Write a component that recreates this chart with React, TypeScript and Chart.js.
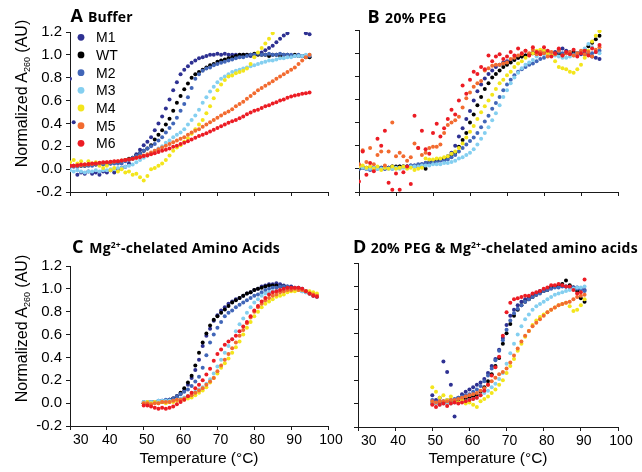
import React, { useEffect, useRef } from 'react';
import { Chart, registerables } from 'chart.js';

Chart.register(...registerables);

// ---------------- DATA ----------------
const SERIES = ['M1', 'WT', 'M2', 'M3', 'M4', 'M5', 'M6'];
const COLORS = ['#2e3192', '#000000', '#4166b8', '#84cff0', '#f3e51c', '#f26b30', '#ec1c24'];

const X_TICKS = [30, 40, 50, 60, 70, 80, 90, 100];
const Y_TICKS = [-0.2, 0.0, 0.2, 0.4, 0.6, 0.8, 1.0, 1.2];

const TEMP_AB = [30,31,32,33,34,35,36,37,38,39,40,41,42,43,44,45,46,47,48,49,50,51,52,53,54,55,56,57,58,59,60,61,62,63,64,65,66,67,68,69,70,71,72,73,74,75,76,77,78,79,80,81,82,83,84,85,86,87,88,89,90,91,92,93,94,95];
const TEMP_C = [50,51,52,53,54,55,56,57,58,59,60,61,62,63,64,65,66,67,68,69,70,71,72,73,74,75,76,77,78,79,80,81,82,83,84,85,86,87,88,89,90,91,92,93,94,95,96,97];
const TEMP_D = [50,51,52,53,54,55,56,57,58,59,60,61,62,63,64,65,66,67,68,69,70,71,72,73,74,75,76,77,78,79,80,81,82,83,84,85,86,87,88,89,90,91];

// Panel A: Buffer
const A_M1 = [0.79,0.41,-0.05,-0.03,-0.04,-0.02,-0.04,-0.03,-0.05,-0.02,-0.03,-0.01,-0.03,0.00,0.01,0.02,0.05,0.09,0.13,0.17,0.21,0.24,0.28,0.34,0.40,0.46,0.53,0.61,0.69,0.76,0.83,0.87,0.90,0.93,0.95,0.97,0.98,0.99,1.00,1.00,1.01,1.00,1.01,1.00,1.00,1.00,0.99,1.00,1.00,0.99,1.00,1.01,1.02,1.04,1.06,1.08,1.11,1.14,1.17,1.19,null,null,null,null,1.19,1.18];
const A_WT = [0.03,0.03,0.03,0.03,0.03,0.04,0.04,0.04,0.04,0.05,0.05,0.05,0.06,0.06,0.07,0.08,0.09,0.10,0.12,0.14,0.16,0.18,0.21,0.26,0.30,0.34,0.39,0.44,0.51,0.58,0.64,0.70,0.75,0.80,0.83,0.85,0.87,0.89,0.91,0.92,0.94,0.95,0.96,0.97,0.98,0.99,1.00,1.00,1.00,1.00,1.01,1.00,1.00,1.00,0.99,1.00,1.00,0.99,1.00,1.00,0.99,1.00,0.99,0.99,0.98,0.98];
const A_M2 = [0.02,0.02,0.02,0.03,0.03,0.03,0.03,0.04,0.04,0.04,0.04,0.05,0.05,0.05,0.05,0.07,0.08,0.10,0.12,0.14,0.16,0.18,0.20,0.22,0.25,0.28,0.32,0.36,0.40,0.45,0.51,0.57,0.63,0.71,0.79,0.83,0.86,0.88,0.89,0.91,0.92,0.93,0.94,0.95,0.96,0.97,0.98,0.98,0.99,1.00,1.00,1.01,1.00,1.00,1.01,1.00,1.00,1.01,1.00,1.00,1.00,0.99,1.00,0.99,0.99,0.99];
const A_M3 = [-0.01,-0.02,-0.01,-0.02,-0.03,-0.02,-0.02,-0.01,-0.02,-0.01,-0.01,0.00,0.00,0.01,0.01,0.02,0.03,0.04,0.06,0.08,0.10,0.12,0.14,0.16,0.18,0.20,0.23,0.25,0.28,0.30,0.32,0.35,0.39,0.43,0.47,0.52,0.58,0.63,0.68,0.72,0.76,0.79,0.81,0.83,0.85,0.86,0.87,0.88,0.89,0.90,0.91,0.92,0.93,0.94,0.95,0.95,0.96,0.97,0.97,0.98,0.98,0.99,0.99,0.99,1.00,1.00];
const A_M4 = [0.06,0.08,0.05,0.07,0.04,0.07,0.05,0.06,0.03,0.01,0.03,-0.01,0.01,-0.02,0.00,-0.03,-0.02,-0.05,-0.04,-0.07,-0.10,-0.06,0.00,0.01,0.03,0.05,0.08,0.12,0.16,0.19,0.21,0.24,0.27,0.31,0.35,0.39,0.43,0.49,0.55,0.62,0.69,0.74,0.78,0.81,0.82,0.84,0.85,0.86,0.88,0.92,0.98,1.02,1.06,1.10,1.14,1.19,null,null,null,null,null,null,null,null,null,null];
const A_M5 = [0.03,0.03,0.03,0.035,0.04,0.04,0.045,0.05,0.05,0.055,0.06,0.06,0.065,0.07,0.075,0.08,0.085,0.09,0.10,0.11,0.12,0.13,0.145,0.16,0.175,0.19,0.205,0.22,0.235,0.25,0.265,0.28,0.30,0.32,0.335,0.35,0.37,0.39,0.41,0.43,0.45,0.47,0.49,0.505,0.525,0.55,0.57,0.59,0.615,0.64,0.665,0.69,0.71,0.73,0.75,0.77,0.79,0.81,0.83,0.85,0.87,0.89,0.92,0.95,0.98,1.00];
const A_M6 = [0.03,0.03,0.035,0.04,0.04,0.045,0.05,0.05,0.055,0.06,0.06,0.065,0.07,0.07,0.075,0.08,0.085,0.09,0.10,0.105,0.115,0.12,0.13,0.14,0.15,0.16,0.17,0.18,0.195,0.205,0.22,0.23,0.245,0.26,0.275,0.29,0.30,0.315,0.33,0.345,0.36,0.375,0.39,0.405,0.42,0.43,0.445,0.46,0.48,0.495,0.51,0.52,0.535,0.55,0.56,0.575,0.585,0.60,0.61,0.625,0.635,0.645,0.65,0.66,0.665,0.67];

// Panel B: 20% PEG
const B_M1 = [0.00,0.01,0.00,0.01,0.00,0.01,0.01,0.00,0.01,0.02,0.01,0.02,0.02,0.02,0.03,0.03,0.03,0.04,0.05,0.06,0.06,0.07,0.08,0.09,0.11,0.14,0.20,0.28,0.35,0.43,0.50,0.59,0.67,0.73,0.78,0.82,0.85,0.88,0.90,0.92,0.93,0.94,0.95,0.96,0.97,0.98,0.99,1.00,1.01,1.00,1.02,1.01,1.00,1.01,1.03,1.04,1.02,1.00,0.99,1.00,0.99,1.00,0.99,0.97,0.96,0.95];
const B_WT = [0.01,0.01,0.01,0.01,0.01,0.01,0.01,0.01,0.01,0.02,0.02,0.02,0.02,0.02,0.02,0.02,0.02,0.02,0.00,0.05,0.06,0.07,0.08,0.09,0.10,0.12,0.14,0.19,0.25,0.31,0.40,0.47,0.55,0.62,0.69,0.74,0.79,0.82,0.85,0.88,0.90,0.92,0.94,0.96,0.97,0.98,0.99,1.00,1.00,1.01,1.00,1.00,0.99,1.00,1.00,0.99,1.00,1.00,1.01,1.00,1.01,1.03,1.06,1.09,1.12,1.15];
const B_M2 = [0.00,0.01,0.00,-0.01,0.00,0.00,0.01,0.00,0.01,0.00,0.01,0.01,0.02,0.02,0.03,0.03,0.04,0.04,0.05,0.05,0.06,0.06,0.07,0.07,0.08,0.10,0.12,0.15,0.18,0.21,0.24,0.27,0.31,0.36,0.41,0.46,0.52,0.57,0.62,0.68,0.73,0.77,0.81,0.84,0.86,0.88,0.90,0.91,0.93,0.95,0.96,0.98,0.99,1.00,1.01,1.00,1.00,1.01,0.99,1.00,1.00,0.99,1.00,1.00,1.01,1.02];
const B_M3 = [0.02,0.01,0.00,0.00,0.01,0.00,0.00,0.01,0.00,0.00,0.01,0.00,0.01,0.01,0.02,0.02,0.02,0.03,0.03,0.03,0.04,0.04,0.04,0.05,0.05,0.06,0.07,0.09,0.10,0.12,0.14,0.17,0.21,0.26,0.31,0.36,0.42,0.48,0.55,0.62,0.68,0.74,0.79,0.83,0.87,0.90,0.92,0.94,0.97,0.99,0.99,0.99,0.99,0.98,0.97,0.96,0.96,0.97,0.98,1.00,1.01,1.04,1.08,1.05,1.02,1.00];
const B_M4 = [0.02,0.03,0.01,0.02,0.00,0.02,-0.01,0.01,0.00,0.02,0.00,0.01,0.02,0.00,0.01,-0.01,0.00,0.01,0.09,0.08,0.08,0.09,0.09,0.10,0.11,0.13,0.15,0.18,0.22,0.27,0.32,0.37,0.43,0.49,0.54,0.59,0.64,0.69,0.74,0.77,0.81,0.84,0.88,0.91,0.93,0.96,0.98,1.00,1.02,1.03,1.02,1.00,0.98,0.93,0.88,0.87,0.86,0.84,0.83,0.86,0.90,0.96,1.02,1.10,1.15,1.19];
const B_M5 = [0.04,0.16,0.06,0.18,0.04,0.12,0.15,0.03,0.15,0.40,0.11,0.14,0.11,0.07,0.10,0.22,0.18,0.12,0.14,0.18,0.19,0.19,0.21,0.31,0.38,0.40,0.42,0.45,0.53,0.61,0.66,0.71,0.74,0.76,0.85,0.87,0.89,0.90,0.90,0.91,0.92,0.95,0.96,0.98,0.99,1.02,1.00,1.03,0.99,1.01,1.00,0.97,1.01,0.99,1.02,0.98,1.00,1.01,0.98,1.00,1.02,0.99,1.01,0.97,1.03,1.05];
const B_M6 = [-0.11,0.15,-0.05,0.05,-0.02,0.26,0.20,0.33,-0.12,-0.18,-0.04,-0.18,-0.03,0.02,-0.13,0.46,0.18,0.33,0.17,0.13,0.31,0.39,0.28,0.35,0.43,0.51,0.47,0.59,0.72,0.65,0.77,0.84,0.82,0.88,0.86,0.98,0.93,0.97,0.99,0.95,0.97,1.01,0.98,1.04,1.00,1.02,0.98,1.05,1.01,0.99,1.05,1.02,0.97,1.00,1.04,0.98,1.01,0.99,1.03,0.97,1.00,1.02,0.98,1.04,1.01,1.07];

// Panel C: Mg2+-chelated amino acids
const C_M1 = [0.00,0.00,0.01,0.01,0.01,0.02,0.02,0.03,0.04,0.06,0.08,0.11,0.16,0.22,0.29,0.38,0.50,0.59,0.65,0.72,0.77,0.81,0.84,0.87,0.89,0.91,0.92,0.94,0.96,0.97,0.99,1.00,1.02,1.03,1.04,1.04,1.05,1.04,1.03,1.02,1.02,1.01,1.01,1.00,0.98,0.96,0.94,0.93];
const C_WT = [0.00,0.00,0.00,0.01,0.01,0.01,0.02,0.03,0.04,0.06,0.09,0.13,0.18,0.24,0.33,0.44,0.53,0.61,0.68,0.73,0.76,0.79,0.82,0.85,0.88,0.90,0.92,0.94,0.96,0.97,0.99,1.00,1.01,1.02,1.03,1.03,1.03,1.02,1.02,1.01,1.01,1.00,1.00,0.99,0.98,0.96,0.95,0.94];
const C_M2 = [0.01,0.01,0.01,0.01,0.02,0.02,0.03,0.03,0.04,0.06,0.08,0.10,0.12,0.15,0.19,0.23,0.31,0.42,0.53,0.60,0.66,0.71,0.76,0.79,0.81,0.84,0.86,0.88,0.90,0.92,0.94,0.95,0.97,0.99,1.00,1.01,1.01,1.02,1.02,1.02,1.01,1.00,0.99,0.98,0.97,0.96,0.95,0.94];
const C_M3 = [0.01,0.01,0.01,0.01,0.02,0.02,0.02,0.02,0.02,0.03,0.04,0.05,0.06,0.08,0.10,0.12,0.14,0.17,0.21,0.26,0.32,0.38,0.44,0.50,0.56,0.63,0.69,0.74,0.79,0.84,0.88,0.91,0.94,0.96,0.97,0.98,0.98,0.99,0.99,0.99,1.00,0.99,0.99,0.98,0.97,0.96,0.95,0.94];
const C_M4 = [0.00,0.01,0.00,0.01,0.00,0.01,0.00,0.01,0.01,0.02,0.02,0.03,0.04,0.05,0.07,0.09,0.11,0.14,0.18,0.22,0.26,0.31,0.35,0.39,0.44,0.49,0.54,0.60,0.66,0.71,0.76,0.80,0.84,0.87,0.89,0.91,0.93,0.94,0.95,0.97,0.98,0.98,0.99,0.99,0.98,0.98,0.97,0.96];
const C_M5 = [0.00,0.00,-0.01,0.00,0.00,0.01,0.01,0.01,0.02,0.03,0.03,0.04,0.06,0.07,0.09,0.11,0.13,0.16,0.19,0.22,0.28,0.33,0.38,0.43,0.48,0.53,0.59,0.64,0.70,0.75,0.80,0.84,0.87,0.90,0.92,0.94,0.95,0.97,0.98,0.99,0.99,1.00,0.99,0.99,0.98,0.96,0.95,0.94];
const C_M6 = [-0.02,-0.02,-0.03,-0.04,-0.05,-0.04,-0.05,-0.04,-0.03,-0.01,0.01,0.03,0.06,0.09,0.13,0.16,0.20,0.25,0.30,0.37,0.43,0.47,0.51,0.54,0.56,0.59,0.63,0.67,0.71,0.76,0.81,0.85,0.89,0.92,0.95,0.97,0.98,0.99,1.00,1.01,1.01,1.01,1.01,1.00,0.98,0.96,0.94,0.93];

// Panel D: 20% PEG & Mg2+-chelated amino acids
const D_M1 = [0.07,0.03,0.05,0.36,0.27,0.16,-0.11,0.05,0.08,0.10,0.12,0.14,0.16,0.18,0.21,0.26,0.32,0.38,0.46,0.56,0.67,0.75,0.80,0.84,0.87,0.89,0.91,0.93,0.94,0.96,0.97,0.98,0.99,1.00,1.00,1.01,1.00,1.00,0.99,0.99,0.98,0.97];
const D_WT = [0.00,0.00,0.00,0.01,0.01,0.01,0.02,0.02,0.03,0.04,0.05,0.06,0.07,0.10,0.14,0.19,0.25,0.32,0.39,0.51,0.60,0.68,0.75,0.80,0.84,0.87,0.89,0.91,0.93,0.95,0.96,0.97,0.99,1.00,1.01,1.02,1.05,1.01,0.99,0.96,0.90,0.87];
const D_M2 = [0.03,0.01,0.02,0.02,0.03,0.03,0.04,0.05,0.06,0.07,0.08,0.10,0.12,0.15,0.19,0.24,0.30,0.37,0.45,0.54,0.63,0.71,0.77,0.81,0.84,0.87,0.89,0.91,0.93,0.94,0.96,0.97,0.98,0.99,0.99,1.00,1.00,0.99,0.99,0.98,0.97,0.96];
const D_M3 = [0.00,0.00,-0.01,0.00,0.00,0.00,0.01,0.01,0.02,0.02,0.03,0.04,0.05,0.07,0.09,0.11,0.14,0.17,0.21,0.26,0.34,0.43,0.51,0.59,0.66,0.72,0.76,0.80,0.83,0.85,0.87,0.89,0.91,0.93,0.94,0.95,0.96,0.97,0.98,0.99,0.99,1.00];
const D_M4 = [0.14,0.10,0.05,0.07,0.03,0.06,0.02,0.01,0.03,0.00,0.01,-0.01,-0.03,0.02,0.04,0.06,0.09,0.12,0.16,0.20,0.26,0.32,0.38,0.45,0.51,0.57,0.62,0.67,0.71,0.74,0.76,0.78,0.80,0.82,0.84,0.85,0.86,0.83,0.79,0.80,0.84,0.89];
const D_M5 = [0.02,0.01,0.02,0.02,0.02,0.03,0.03,0.04,0.05,0.06,0.07,0.08,0.09,0.11,0.13,0.16,0.19,0.22,0.25,0.27,0.30,0.35,0.41,0.47,0.53,0.58,0.62,0.66,0.69,0.72,0.75,0.78,0.80,0.82,0.84,0.85,0.86,0.87,0.89,0.91,0.92,0.93];
const D_M6 = [-0.01,-0.03,-0.01,0.00,-0.02,0.00,0.01,0.00,0.01,0.02,0.03,0.04,0.05,0.07,0.11,0.16,0.24,0.31,0.40,0.58,0.78,0.86,0.89,0.90,0.91,0.92,0.92,0.94,0.95,0.96,0.98,0.99,1.01,1.01,1.02,1.01,1.00,1.00,0.97,0.94,0.95,1.06];

// ---------------- LAYOUT ----------------
const SANS = "'Liberation Sans', Arial, Helvetica, sans-serif";
const TITLE_FONT = "'Open Sans', 'Liberation Sans', Arial, sans-serif";

type Pad = { left: number; right: number; top: number; bottom: number };
type PanelDef = {
  temps: number[];
  values: (number | null)[][];
  left: number; top: number; width: number; height: number;
  pad: Pad; yW: number; xH: number;
  showXLabels: boolean; showYLabels: boolean;
};

const PANELS: PanelDef[] = [
  { temps: TEMP_AB, values: [A_M1, A_WT, A_M2, A_M3, A_M4, A_M5, A_M6],
    left: 0, top: 0, width: 334, height: 232,
    pad: { left: 0, right: 6, top: 32, bottom: 0 }, yW: 70, xH: 40,
    showXLabels: false, showYLabels: true },
  { temps: TEMP_AB, values: [B_M1, B_WT, B_M2, B_M3, B_M4, B_M5, B_M6],
    left: 330, top: 0, width: 312, height: 232,
    pad: { left: 0, right: 24, top: 30, bottom: 0 }, yW: 29, xH: 40,
    showXLabels: false, showYLabels: false },
  { temps: TEMP_C, values: [C_M1, C_WT, C_M2, C_M3, C_M4, C_M5, C_M6],
    left: 0, top: 230, width: 350, height: 242,
    pad: { left: 0, right: 22, top: 36, bottom: 2 }, yW: 70, xH: 44,
    showXLabels: true, showYLabels: true },
  { temps: TEMP_D, values: [D_M1, D_WT, D_M2, D_M3, D_M4, D_M5, D_M6],
    left: 330, top: 230, width: 312, height: 242,
    pad: { left: 0, right: 24, top: 33, bottom: 2 }, yW: 28, xH: 43,
    showXLabels: true, showYLabels: false },
];

function Panel({ def }: { def: PanelDef }) {
  const ref = useRef<HTMLCanvasElement>(null);
  useEffect(() => {
    if (!ref.current) return;
    const axisColor = '#1a1a1a';
    const chart = new Chart(ref.current, {
      type: 'scatter',
      data: {
        datasets: SERIES.map((name, i) => ({
          label: name,
          data: def.temps
            .map((t, j) => ({ x: t, y: def.values[i][j] }))
            .filter((d) => d.y !== null && d.y !== undefined),
          backgroundColor: COLORS[i],
          borderColor: COLORS[i],
          borderWidth: 0,
          pointRadius: 2,
          pointHoverRadius: 2,
          order: SERIES.length - i,
        })),
      },
      options: {
        responsive: false,
        animation: false,
        events: [],
        layout: { padding: def.pad },
        plugins: { legend: { display: false }, tooltip: { enabled: false }, title: { display: false } },
        scales: {
          x: {
            type: 'linear',
            position: 'bottom',
            min: X_TICKS[0],
            max: X_TICKS[X_TICKS.length - 1],
            afterBuildTicks: (s: any) => { s.ticks = X_TICKS.map((v) => ({ value: v })); },
            afterFit: (s: any) => { s.height = def.xH; },
            ticks: {
              display: def.showXLabels,
              color: '#000',
              font: { family: SANS, size: 14 },
              padding: 2,
              labelOffset: 3,
              maxRotation: 0,
              autoSkip: false,
              // the first label sits just right of the y axis in the reference
              callback: (v: any) => (Number(v) === X_TICKS[0] ? '    ' + String(v) : String(v)),
            },
            grid: { display: true, drawOnChartArea: false, drawTicks: true, tickLength: 4, color: axisColor, lineWidth: 1 },
            border: { display: true, color: axisColor, width: 1 },
            title: {
              display: def.showXLabels,
              text: 'Temperature (°C)',
              color: '#000',
              font: { family: SANS, size: 15.5 },
              padding: { top: 0, bottom: 2 },
            },
          },
          y: {
            type: 'linear',
            min: Y_TICKS[0],
            max: Y_TICKS[Y_TICKS.length - 1],
            afterBuildTicks: (s: any) => { s.ticks = Y_TICKS.map((v) => ({ value: v })); },
            afterFit: (s: any) => { s.width = def.yW; },
            ticks: {
              display: def.showYLabels,
              color: '#000',
              font: { family: SANS, size: 15 },
              padding: 4,
              callback: (v: any) => Number(v).toFixed(1),
            },
            grid: { display: true, drawOnChartArea: false, drawTicks: true, tickLength: 4, color: axisColor, lineWidth: 1 },
            border: { display: true, color: axisColor, width: 1 },
          },
        },
      },
    } as any);
    return () => chart.destroy();
  }, [def]);
  return (
    <canvas
      ref={ref}
      width={def.width}
      height={def.height}
      style={{ position: 'absolute', left: def.left, top: def.top, width: def.width, height: def.height }}
    />
  );
}

function YLabel({ cx, cy }: { cx: number; cy: number }) {
  return (
    <text transform={`translate(${cx},${cy}) rotate(-90)`} textAnchor="middle" fontFamily={SANS} fontSize={16} fill="#000">
      Normalized A<tspan fontSize={9} dy={3}>260</tspan><tspan dy={-3}> (AU)</tspan>
    </text>
  );
}

export default function App() {
  return (
    <div style={{ position: 'absolute', left: 0, top: 0, width: 642, height: 472, background: '#fff', overflow: 'hidden' }}>
      {PANELS.map((p, i) => <Panel key={i} def={p} />)}
      <svg width={642} height={472} style={{ position: 'absolute', left: 0, top: 0, pointerEvents: 'none' }}>
        <g fontFamily={TITLE_FONT} fontWeight={700} fill="#000">
          <text x={70.5} y={21.7} fontSize={18}>A</text>
          <text x={88} y={21.7} fontSize={14} letterSpacing={0.1}>Buffer</text>
          <text x={367.5} y={23.3} fontSize={18}>B</text>
          <text x={385} y={23.3} fontSize={14} letterSpacing={0.4}>20% PEG</text>
          <text x={72} y={253.3} fontSize={18}>C</text>
          <text x={89.3} y={253.3} fontSize={14} letterSpacing={0.2}>
            Mg<tspan fontSize={8.5} dy={-5}>2+</tspan><tspan dy={5}>-chelated Amino Acids</tspan>
          </text>
          <text x={353} y={253} fontSize={18}>D</text>
          <text x={370.7} y={253} fontSize={14} letterSpacing={0.2}>
            20% PEG &amp; Mg<tspan fontSize={8.5} dy={-5}>2+</tspan><tspan dy={5}>-chelated amino acids</tspan>
          </text>
        </g>
        <YLabel cx={26.5} cy={93.5} />
        <YLabel cx={26.5} cy={328.5} />
        <g fontFamily={SANS} fontSize={14} fill="#000">
          {SERIES.map((s, i) => (
            <g key={s}>
              <circle cx={81} cy={37.3 + i * 17.67} r={3.4} fill={COLORS[i]} />
              <text x={96} y={37.3 + i * 17.67 + 5}>{s}</text>
            </g>
          ))}
        </g>
      </svg>
    </div>
  );
}
